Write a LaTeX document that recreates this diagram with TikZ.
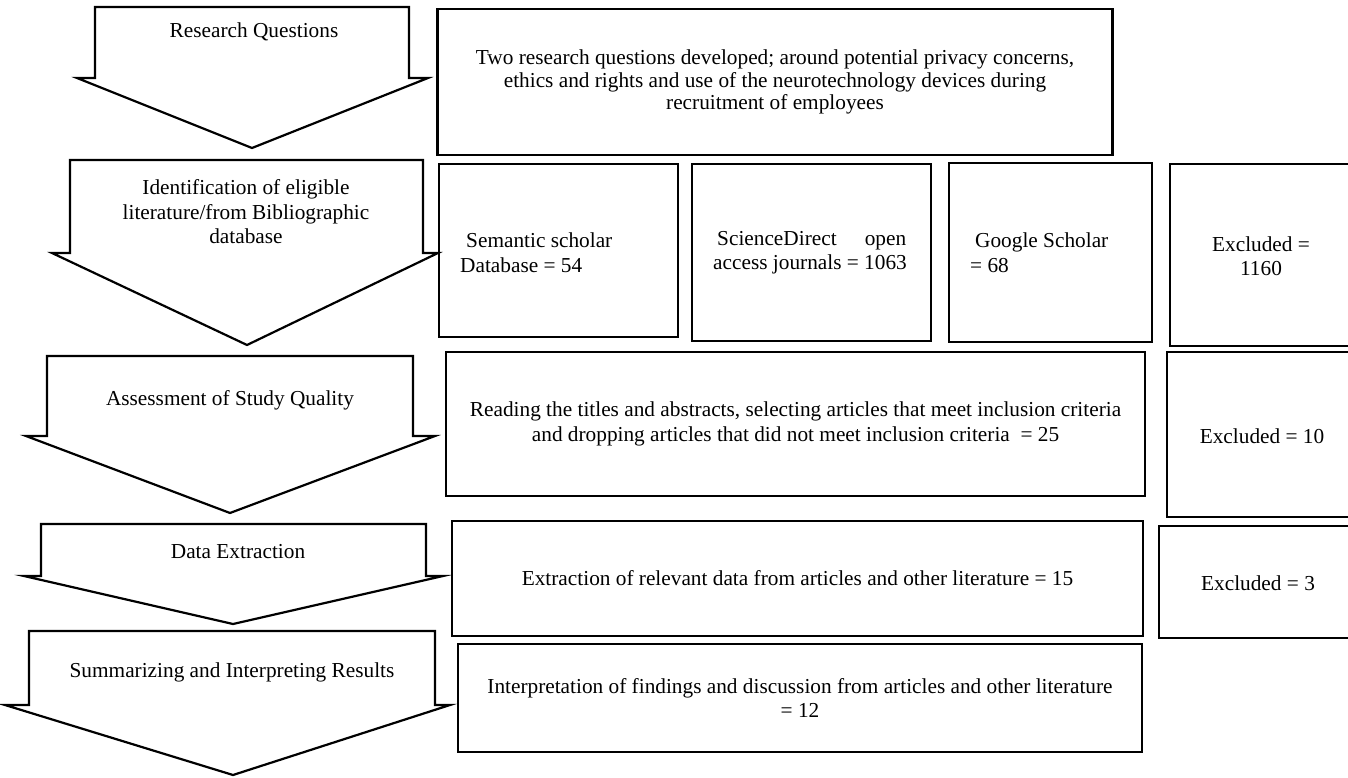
\documentclass[tikz,border=0pt]{standalone}
\usepackage{fontspec}
\setmainfont{Liberation Serif}
\begin{document}
\begin{tikzpicture}[x=1pt,y=-1pt,
  flowarrow/.style={draw, line width=2.2pt, line join=miter, fill=white},
  box/.style={draw, line width=2.2pt, rectangle, inner sep=0pt, font=\fontsize{21.3}{24.5}\selectfont, align=center},
  lbl/.style={font=\fontsize{21.3}{24.5}\selectfont, align=center, inner sep=0pt}]
\useasboundingbox (0,0) rectangle (1348,778);

% ---- step arrows ----
\draw[flowarrow] (95,7) -- (409,7) -- (409,78) -- (428,78) -- (252,148) -- (77,78) -- (95,78) -- cycle;
\draw[flowarrow] (70,160) -- (423,160) -- (423,253) -- (438,253) -- (247,345) -- (52,253) -- (70,253) -- cycle;
\draw[flowarrow] (47,356) -- (413,356) -- (413,436) -- (435,436) -- (230,513) -- (26,436) -- (47,436) -- cycle;
\draw[flowarrow] (41,524) -- (426,524) -- (426,576) -- (443,576) -- (233,624) -- (24,576) -- (41,576) -- cycle;
\draw[flowarrow] (29,631) -- (435,631) -- (435,705) -- (450,705) -- (233,775) -- (5,705) -- (29,705) -- cycle;

\node[lbl] (a1) at (254,32) {Research Questions};
\node[lbl] (a2) at (246,212) {Identification of eligible\\literature/from Bibliographic\\database};
\node[lbl] (a3) at (230,400) {Assessment of Study Quality};
\node[lbl] (a4) at (238,552) {Data Extraction};
\node[lbl] (a5) at (232,672) {Summarizing and Interpreting Results};

% ---- row 1 ----
\node[box, minimum width=675pt, minimum height=146pt, font=\fontsize{21.3}{22.5}\selectfont] (rq) at (775,82)
  {Two research questions developed; around potential privacy concerns,\\ethics and rights and use of the neurotechnology devices during\\recruitment of employees};

% ---- row 2 ----
\node[box, minimum width=239pt, minimum height=173pt] (sem) at (558.5,250.5) {};
\node[lbl, align=left, anchor=west] (semt) at (460,252.5) {\hspace*{6pt}Semantic scholar\\Database = 54};
\node[box, minimum width=239pt, minimum height=177pt] (sd) at (811.5,252.5) {};
\node[lbl, align=left, anchor=west] (sdt) at (713,252.5) {\hbox to 193pt{\hspace*{4pt}ScienceDirect\hfill open}\\access journals = 1063};
\node[box, minimum width=203pt, minimum height=179pt] (gs) at (1050.5,252.5) {};
\node[lbl, align=left, anchor=west] (gst) at (970,252.5) {\hspace*{5pt}Google Scholar\\= 68};
\node[box, minimum width=182pt, minimum height=182pt] (ex1) at (1261,255) {};
\node[lbl] (ex1t) at (1261,256) {Excluded =\\1160};

% ---- row 3 ----
\node[box, minimum width=699pt, minimum height=144pt] (rd) at (795.5,424)
  {Reading the titles and abstracts, selecting articles that meet inclusion criteria\\and dropping articles that did not meet inclusion criteria~ = 25};
\node[box, minimum width=185pt, minimum height=165pt] (ex2) at (1259.5,434.5) {};
\node[lbl] (ex2t) at (1262,436) {Excluded = 10};

% ---- row 4 ----
\node[box, minimum width=691pt, minimum height=115pt] (de) at (797.5,578.5)
  {Extraction of relevant data from articles and other literature = 15};
\node[box, minimum width=193pt, minimum height=112pt] (ex3) at (1255.5,582) {};
\node[lbl] (ex3t) at (1258,583) {Excluded = 3};

% ---- row 5 ----
\node[box, minimum width=684pt, minimum height=108pt] (ip) at (800,698)
  {Interpretation of findings and discussion from articles and other literature\\= 12};
\end{tikzpicture}
\end{document}
